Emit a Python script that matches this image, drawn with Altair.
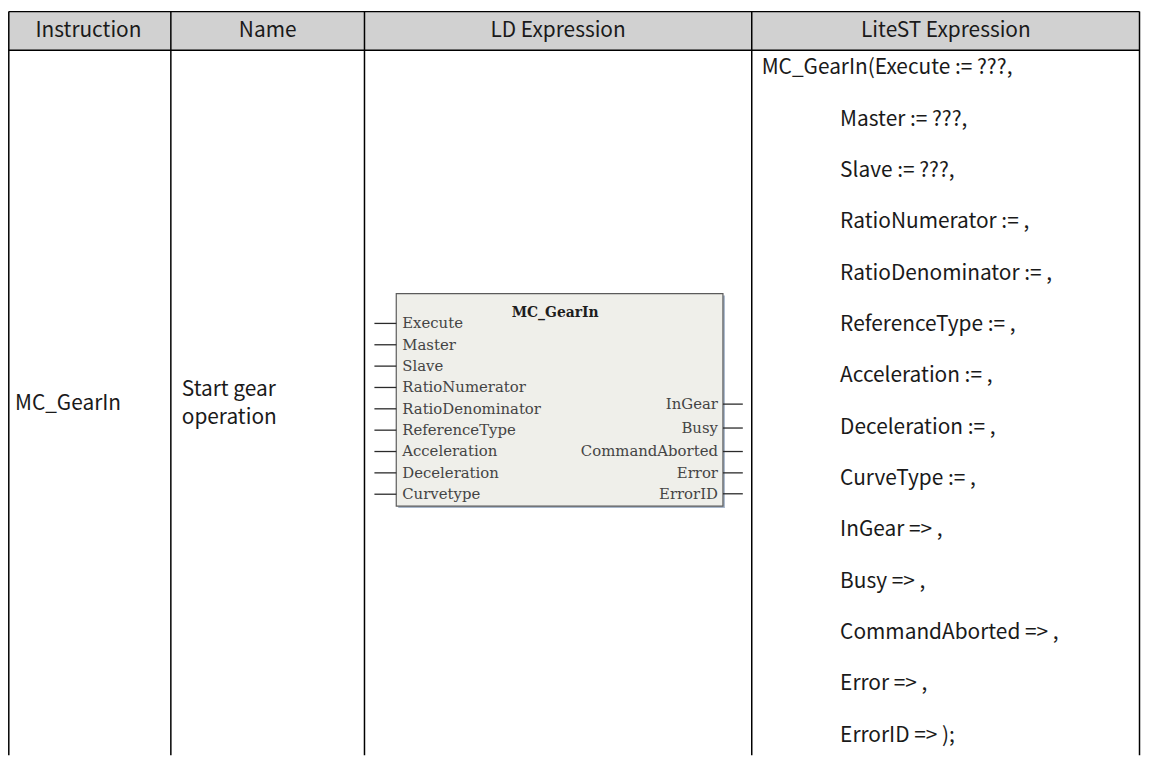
import altair as alt
import pandas as pd

# ---------------- content ----------------
headers = ["Instruction", "Name", "LD Expression", "LiteST Expression"]
instruction = ["MC_GearIn"]
name_lines = ["Start gear", "operation"]
litest_lines = [
    "MC_GearIn(Execute := ???,",
    "Master := ???,",
    "Slave := ???,",
    "RatioNumerator := ,",
    "RatioDenominator := ,",
    "ReferenceType := ,",
    "Acceleration := ,",
    "Deceleration := ,",
    "CurveType := ,",
    "InGear => ,",
    "Busy => ,",
    "CommandAborted => ,",
    "Error => ,",
    "ErrorID => );",
]
fb_title = ["MC_GearIn"]
fb_inputs = ["Execute", "Master", "Slave", "RatioNumerator", "RatioDenominator",
             "ReferenceType", "Acceleration", "Deceleration", "Curvetype"]
fb_outputs = ["InGear", "Busy", "CommandAborted", "Error", "ErrorID"]

# ---------------- layout ----------------
W, H = 1141, 750
X0, Y0 = 8, 8
COL_EDGES = [8.8, 172, 367, 757, 1147.5]
TOP, HEAD_BOT = 9, 48
BOTTOM = Y0 + H
HEAD_Y = 28.5
FONT = "Noto Sans CJK SC"
FS = 21
SERIF = "DejaVu Serif"

LITE_Y0, LITE_STEP = 66, 51.7
LITE_X_FIRST, LITE_X_INDENT = 767, 846
INSTR_X, INSTR_Y = 15, 404
NAME_X, NAME_Y0, NAME_STEP = 183, 390, 28

BOX = dict(x=399, x2=728, y=293, y2=507)
IN_Y0, IN_STEP = 323, 21.5
OUT_ROWS = [3.78, 4.9, 6.0, 7.0, 7.98]
IN_LABEL_X = 405
OUT_LABEL_X = 723
STUB_IN = (377, 399)
STUB_OUT = (728, 748)
TITLE_X, TITLE_Y = 559, 313

xs = alt.Scale(domain=[X0, X0 + W], nice=False, zero=False)
ys = alt.Scale(domain=[Y0, Y0 + H], nice=False, zero=False, reverse=True)


def X(f):
    return alt.X(f, type="quantitative", scale=xs, axis=None)


def Y(f):
    return alt.Y(f, type="quantitative", scale=ys, axis=None)


# header background
head_df = pd.DataFrame([{"x": COL_EDGES[0], "x2": COL_EDGES[-1], "y": TOP, "y2": HEAD_BOT}])
head_bg = alt.Chart(head_df).mark_rect(color="#d1d1d1").encode(
    x=X("x"), x2="x2", y=Y("y"), y2="y2")

# grid lines
h_df = pd.DataFrame({"x": [COL_EDGES[0]] * 2, "x2": [COL_EDGES[-1]] * 2, "y": [TOP, HEAD_BOT]})
h_rules = alt.Chart(h_df).mark_rule(color="#000000", strokeWidth=1.5).encode(
    x=X("x"), x2="x2", y=Y("y"))
v_df = pd.DataFrame({"x": COL_EDGES, "y": [TOP] * len(COL_EDGES), "y2": [BOTTOM] * len(COL_EDGES)})
v_rules = alt.Chart(v_df).mark_rule(color="#000000", strokeWidth=1.5).encode(
    x=X("x"), y=Y("y"), y2="y2")

# header text
centers = [6, 172, 367, 757, 1148]
hd = pd.DataFrame({
    "text": headers,
    "x": [(centers[i] + centers[i + 1]) / 2 for i in range(len(headers))],
    "y": [HEAD_Y] * len(headers),
})
head_text = alt.Chart(hd).mark_text(font=FONT, fontSize=FS, color="#1a1a1a",
                                    align="center", baseline="middle").encode(
    x=X("x"), y=Y("y"), text="text")

# body text
rows = []
rows.append({"text": instruction[0], "x": INSTR_X, "y": INSTR_Y})
for i, t in enumerate(name_lines):
    rows.append({"text": t, "x": NAME_X, "y": NAME_Y0 + i * NAME_STEP})
for i, t in enumerate(litest_lines):
    rows.append({"text": t, "x": LITE_X_FIRST if i == 0 else LITE_X_INDENT,
                 "y": LITE_Y0 + i * LITE_STEP})
body_df = pd.DataFrame(rows)
body_text = alt.Chart(body_df).mark_text(font=FONT, fontSize=FS, color="#1a1a1a",
                                         align="left", baseline="middle").encode(
    x=X("x"), y=Y("y"), text="text")

# function block
shadow_df = pd.DataFrame([{"x": BOX["x"] + 2, "x2": BOX["x2"] + 2, "y": BOX["y"] + 2, "y2": BOX["y2"] + 2}])
shadow = alt.Chart(shadow_df).mark_rect(fill="#a9b8cc").encode(
    x=X("x"), x2="x2", y=Y("y"), y2="y2")
box_df = pd.DataFrame([BOX])
box = alt.Chart(box_df).mark_rect(fill="#efefea", stroke="#5b5b5b", strokeWidth=1.2).encode(
    x=X("x"), x2="x2", y=Y("y"), y2="y2")

in_y = [IN_Y0 + i * IN_STEP for i in range(len(fb_inputs))]
out_y = [IN_Y0 + r * IN_STEP for r in OUT_ROWS]

stub_df = pd.DataFrame(
    [{"x": STUB_IN[0], "x2": STUB_IN[1], "y": y} for y in in_y] +
    [{"x": STUB_OUT[0], "x2": STUB_OUT[1], "y": y} for y in out_y]
)
stubs = alt.Chart(stub_df).mark_rule(color="#2a2a2a", strokeWidth=1.3).encode(
    x=X("x"), x2="x2", y=Y("y"))

in_df = pd.DataFrame({"text": fb_inputs, "x": [IN_LABEL_X] * len(fb_inputs), "y": in_y})
in_text = alt.Chart(in_df).mark_text(font=SERIF, fontSize=15, color="#444444",
                                     align="left", baseline="middle").encode(
    x=X("x"), y=Y("y"), text="text")
out_df = pd.DataFrame({"text": fb_outputs, "x": [OUT_LABEL_X] * len(fb_outputs), "y": out_y})
out_text = alt.Chart(out_df).mark_text(font=SERIF, fontSize=15, color="#444444",
                                       align="right", baseline="middle").encode(
    x=X("x"), y=Y("y"), text="text")
title_df = pd.DataFrame({"text": fb_title, "x": [TITLE_X], "y": [TITLE_Y]})
title_text = alt.Chart(title_df).mark_text(font=SERIF, fontSize=14, fontWeight="bold",
                                           color="#1e1e1e", align="center",
                                           baseline="middle").encode(
    x=X("x"), y=Y("y"), text="text")

chart = alt.layer(
    head_bg, v_rules, h_rules, head_text, body_text,
    shadow, box, stubs, in_text, out_text, title_text,
).properties(
    width=W, height=H, padding=0, background="#ffffff",
    autosize=alt.AutoSizeParams(type="none"),
).configure_view(stroke=None)

chart.save("out.html", embed_options={"renderer": "svg", "actions": False})
